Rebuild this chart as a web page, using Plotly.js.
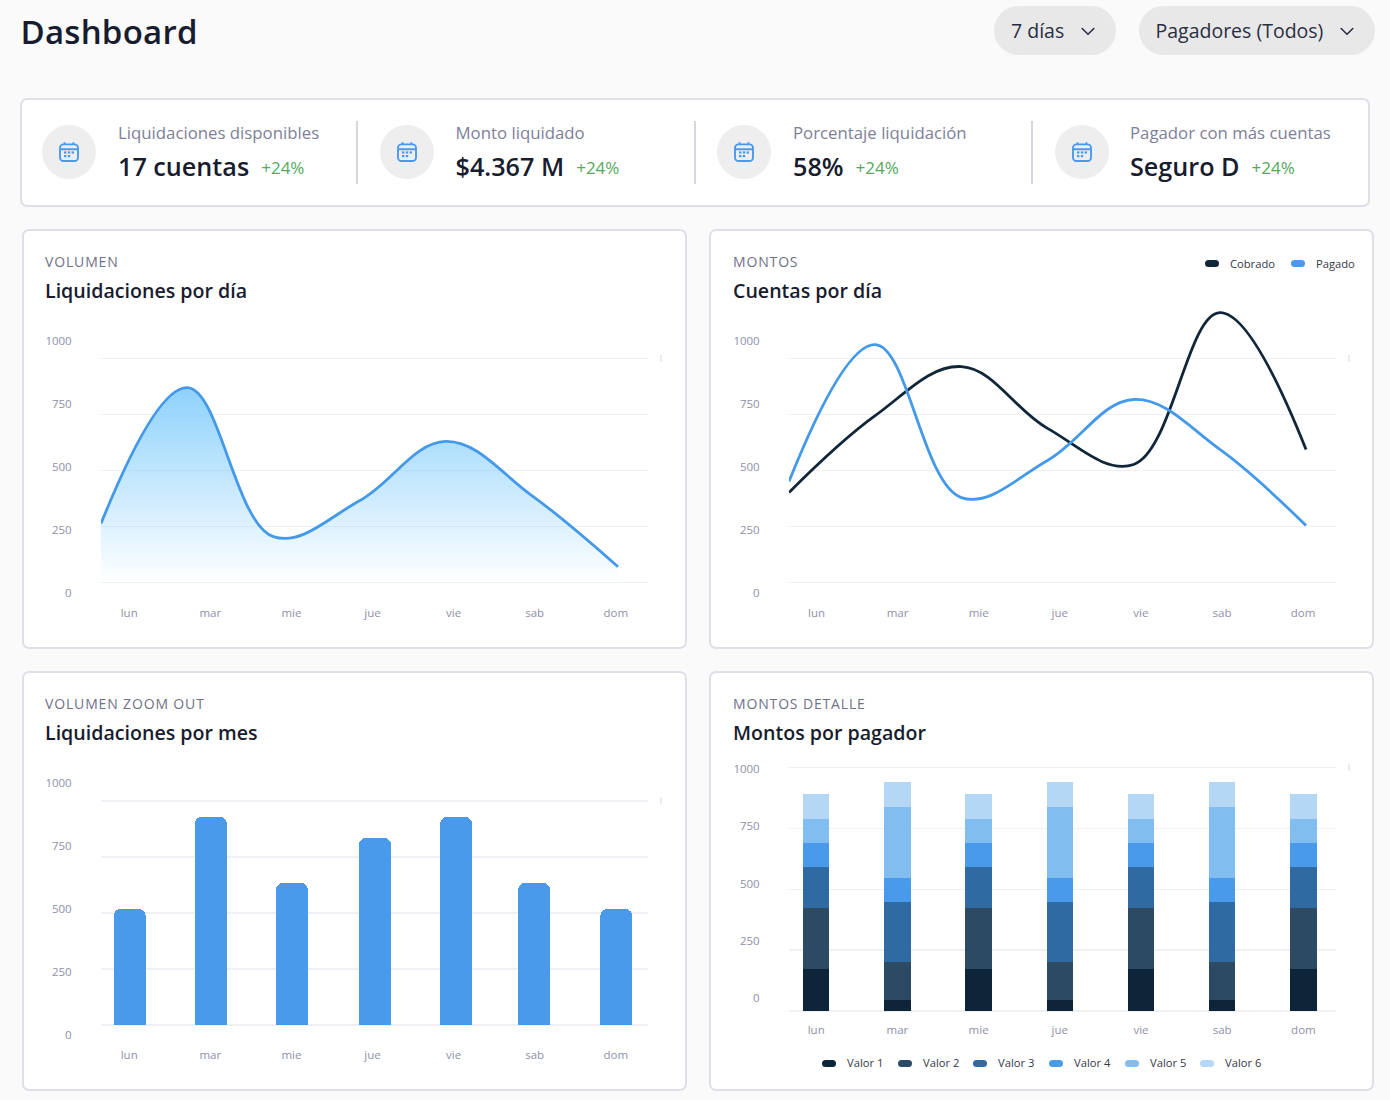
<!DOCTYPE html>
<html><head><meta charset="utf-8">
<script src="https://cdn.plot.ly/plotly-3.0.1.min.js"></script>
<style>
html,body{margin:0;padding:0;background:#fafafa;width:1390px;height:1100px;overflow:hidden;font-family:"Open Sans",sans-serif;color:#171c2e}
.abs{position:absolute}
.h1{left:20.5px;top:9px;font-size:33px;font-weight:600;line-height:46px;letter-spacing:.25px;color:#171c2e}
.pill{background:#e8e8e8;border-radius:25px;top:6px;height:49px;line-height:50px;font-size:19.5px;color:#2a2f3f;box-sizing:border-box;padding-left:17px}
.pill svg{position:absolute;top:21px}
.card{background:#fff;border:2px solid #dfe0e7;border-radius:7px;box-sizing:border-box}
.sep{width:2px;background:#d6d7de;top:121px;height:63px}
.circle{width:54px;height:54px;border-radius:50%;background:#eeeeee;top:125px}
.kl{top:121px;font-size:16.8px;line-height:23px;color:#7e8098;white-space:nowrap}
.kv{top:149px;font-size:25.2px;font-weight:600;line-height:35px;color:#171c2e;white-space:nowrap}
.kd{font-size:17px;font-weight:400;color:#56a85c;margin-left:12px;position:relative;top:-2px}
.ov{font-size:14px;line-height:19px;letter-spacing:.85px;color:#6f7188;white-space:nowrap}
.tt{font-size:19.6px;font-weight:600;line-height:27px;color:#171c2e;white-space:nowrap}
.lg{font-size:11.2px;line-height:14px;color:#33384a;white-space:nowrap}
.sw{width:14px;height:7px;border-radius:4px}
</style></head><body>
<div id="page"></div>
<script>
const dias = ['lun','mar','mie','jue','vie','sab','dom'];
const yTicks = [0,250,500,750,1000];
const volumenDia = [263,870,205,365,630,388,70];
const cobrado = [402,745,964,688,527,1205,594];
const pagado = [451,1062,379,545,817,594,254];
const volumenMes = [518,929,634,835,929,634,518];
const valor1 = [172,45,172,45,172,45,172];
const valor2 = [252,156,252,156,252,156,252];
const valor3 = [167,246,167,246,167,246,167];
const valor4 = [98,97,98,97,98,97,98];
const valor5 = [97,294,97,294,97,294,97];
const valor6 = [104,103,104,103,104,103,104];
const valorNombres = ['Valor 1','Valor 2','Valor 3','Valor 4','Valor 5','Valor 6'];
const valorColores = ['#0d2439','#2c4a64','#2f6aa3','#4a9aec','#82bdf0','#b4d7f6'];
const kpiEtiquetas = ['Liquidaciones disponibles','Monto liquidado','Porcentaje liquidación','Pagador con más cuentas'];
const kpiValores = ['17 cuentas','$4.367 M','58%','Seguro D'];
const kpiDelta = '+24%';

const page = document.getElementById('page');
function el(cls, style, html){const d=document.createElement('div');d.className='abs '+cls;Object.assign(d.style,style);if(html!==undefined)d.innerHTML=html;page.appendChild(d);return d;}
const chev = '<svg width="14" height="9" viewBox="0 0 14 9" fill="none" stroke="#2a2f3f" stroke-width="1.6" stroke-linecap="round" stroke-linejoin="round"><path d="M1.2 1.5 L7 7.3 L12.8 1.5"/></svg>';
const cal = '<svg width="22" height="22" viewBox="0 0 22 22" fill="none" stroke="#4a9aec" stroke-width="1.9"><rect x="2" y="3.4" width="18" height="16.6" rx="3.5"/><path d="M2 8.2H20M6.6 1.2V4M15.4 1.2V4"/><g fill="#4a9aec" stroke="none"><rect x="6" y="10.4" width="2.4" height="2.2"/><rect x="9.8" y="10.4" width="2.4" height="2.2"/><rect x="13.6" y="10.4" width="2.4" height="2.2"/><rect x="6" y="14" width="2.4" height="2.2"/><rect x="9.8" y="14" width="2.4" height="2.2"/></g></svg>';

el('h1',{}, 'Dashboard');
el('pill',{left:'994px',width:'122px'},'7 días'+chev).querySelector('svg').style.left='87px';
el('pill',{left:'1138.5px',width:'236.5px'},'Pagadores (Todos)'+chev).querySelector('svg').style.left='201.5px';

el('card',{left:'20px',top:'98px',width:'1350px',height:'108.5px'});
[357,695,1032].forEach(x=>el('sep',{left:x-1+'px'}));
[42,380,717,1055].forEach((x,i)=>{
  const c=el('circle',{left:x+'px'},cal);
  const s=c.querySelector('svg');s.style.position='absolute';s.style.left='16px';s.style.top='16px';
  const tx=[118,455.5,793,1130][i];
  el('kl',{left:tx+'px'},kpiEtiquetas[i]);
  el('kv',{left:tx+'px'},kpiValores[i]+'<span class="kd">'+kpiDelta+'</span>');
});

const cards=[
 {l:21.5,t:228.5,tx:45,ov:'VOLUMEN',tt:'Liquidaciones por día'},
 {l:708.5,t:228.5,tx:733,ov:'MONTOS',tt:'Cuentas por día'},
 {l:21.5,t:670.5,tx:45,ov:'VOLUMEN ZOOM OUT',tt:'Liquidaciones por mes'},
 {l:708.5,t:670.5,tx:733,ov:'MONTOS DETALLE',tt:'Montos por pagador'}];
cards.forEach(c=>{
  el('card',{left:c.l+'px',top:c.t+'px',width:'665.5px',height:'420px'});
  el('ov',{left:c.tx+'px',top:c.t+23.5+'px'},c.ov);
  el('tt',{left:c.tx+'px',top:c.t+48.5+'px'},c.tt);
});

function leg(x,y,name,color){
  el('sw',{left:x+'px',top:y-3.5+'px',background:color});
  el('lg',{left:x+25+'px',top:y-7+'px'},name);
}
leg(1205,263.5,'Cobrado','#12263a');
leg(1291,263.5,'Pagado','#4a9aec');
[822,898,973,1049,1125,1200].forEach((x,i)=>leg(x,1063,valorNombres[i],valorColores[i]));

const tickFont={family:'"Open Sans",sans-serif',size:11.5,color:'#8f90a8'};

function chart(g, traces){
  const pad=10, H=g.bottom-g.top+pad+40;
  const d=document.createElement('div');d.className='abs';
  d.style.cssText=`left:${g.left-79}px;top:${g.top-pad}px;width:${g.right-g.left+79+34}px;height:${H}px`;
  page.appendChild(d);
  const plotW=g.right-g.left, plotH=g.bottom-g.top;
  const hidden={x:dias,y:dias.map(()=>null),xaxis:'x',yaxis:'y2',type:'scatter',mode:'lines',showlegend:false,hoverinfo:'skip'};
  const layout={
    width:g.right-g.left+79+34,height:H,
    margin:{l:79,r:34,t:pad,b:40,pad:0},
    paper_bgcolor:'rgba(0,0,0,0)',plot_bgcolor:'rgba(0,0,0,0)',
    showlegend:false,barmode:'stack',barcornerradius:g.radius||0,bargap:0,
    xaxis:{type:'category',categoryorder:'array',categoryarray:dias,
      range:[(g.left-g.lab0)/g.labStep,(g.right-g.lab0)/g.labStep],
      showgrid:false,zeroline:false,showline:false,ticks:'outside',ticklen:2,tickcolor:'rgba(0,0,0,0)',tickfont:tickFont,fixedrange:true},
    xaxis2:{type:'category',categoryorder:'array',categoryarray:dias,overlaying:'x',anchor:'y',side:'bottom',
      range:[0,(g.right-g.left)/86.17],
      showgrid:false,zeroline:false,showline:false,showticklabels:false,ticks:'',fixedrange:true},
    yaxis:{range:[(g.y0-g.bottom)/g.k,(g.y0-g.top)/g.k],tickmode:'array',tickvals:yTicks,showticklabels:false,ticks:'',
      showgrid:true,gridcolor:'#eef0f3',gridwidth:1.2,zeroline:false,showline:false,fixedrange:true},
    yaxis2:{overlaying:'y',side:'left',anchor:'x',range:[(g.lab00-g.bottom)/g.labK,(g.lab00-g.top)/g.labK],
      tickmode:'array',tickvals:yTicks,showgrid:false,zeroline:false,showline:false,
      ticks:'outside',ticklen:26,tickcolor:'rgba(0,0,0,0)',tickfont:tickFont,fixedrange:true},
    shapes:[{type:'line',xref:'paper',yref:'paper',x0:(g.right+13-g.left)/plotW,x1:(g.right+13-g.left)/plotW,
      y0:(g.bottom-(g.y0-1000*g.k)+3.5)/plotH,y1:(g.bottom-(g.y0-1000*g.k)-3.5)/plotH,line:{color:'#e4e5ea',width:1.5}}]
  };
  Plotly.newPlot(d,traces.concat([hidden]),layout,{displayModeBar:false,staticPlot:true});
}

const lineBase={type:'scatter',mode:'lines',xaxis:'x2',yaxis:'y',hoverinfo:'skip'};
const curva={shape:'spline',smoothing:1.1,width:2.8};
chart({left:101,right:648,top:300,bottom:600,y0:582.5,k:0.224,lab00:592.5,labK:0.252,lab0:129.2,labStep:81.1},
 [Object.assign({},lineBase,{x:dias,y:volumenDia,fill:'tozeroy',
   fillgradient:{type:'vertical',colorscale:[[0,'rgba(130,205,252,0)'],[1,'rgba(130,205,252,0.9)']]},
   line:Object.assign({color:'#4499e8'},curva)})]);
chart({left:789,right:1336,top:300,bottom:600,y0:582.5,k:0.224,lab00:592.5,labK:0.252,lab0:816.5,labStep:81.1},
 [Object.assign({},lineBase,{x:dias,y:cobrado,line:Object.assign({color:'#12263a'},curva)}),
  Object.assign({},lineBase,{x:dias,y:pagado,line:Object.assign({color:'#4499e8'},curva)})]);
const barW=0.395, barNudge=[0.5,0.5,0.5,2.5,2.5,-0.5,0.5];
chart({left:101,right:648,top:742,bottom:1042,y0:1025,k:0.224,lab00:1035,labK:0.252,lab0:129.2,labStep:81.1,radius:7},
 [{type:'bar',x:dias,y:volumenMes,width:barW,offset:barNudge.map(n=>-barW/2+n/81.1),marker:{color:'#4a9aec'},xaxis:'x',yaxis:'y',hoverinfo:'skip'}]);
const series=[valor1,valor2,valor3,valor4,valor5,valor6];
chart({left:789,right:1336,top:750,bottom:1017,y0:1011,k:0.2437,lab00:998,labK:0.229,lab0:816.2,labStep:81.2},
 series.map((s,i)=>({type:'bar',name:valorNombres[i],x:dias,y:s,width:0.327,marker:{color:valorColores[i]},xaxis:'x',yaxis:'y',hoverinfo:'skip'})));
</script>
</body></html>
